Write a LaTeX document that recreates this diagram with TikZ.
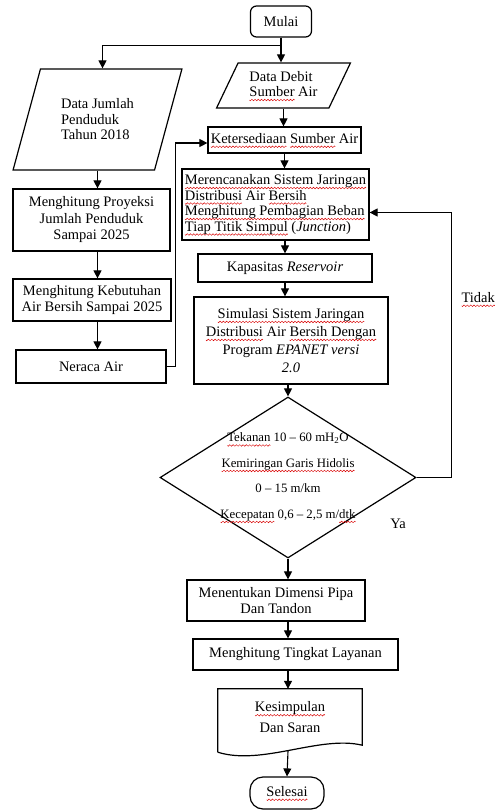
\documentclass[tikz,border=0pt]{standalone}
\usepackage{fontspec}
\setmainfont{Liberation Serif}
\usetikzlibrary{shapes.geometric,arrows.meta,calc}

\newsavebox\wavebox
\newcommand\salah[1]{\leavevmode\setbox0\hbox{#1}\rlap{\lower3.5pt\hbox to\wd0{\xleaders\copy\wavebox\hfil}}\box0\relax}

\tikzset{
  proses/.style={draw, line width=1.2pt, rectangle, inner sep=2pt, align=center},
  data/.style={draw, line width=1.2pt, trapezium, trapezium stretches=true, inner sep=0pt, align=left},
  terminal/.style={draw, line width=1.2pt, rectangle, rounded corners=#1, inner sep=2pt},
  arr/.style={line width=1.1pt, -{Triangle[length=8pt,width=8pt]}},
}

\begin{document}
\sbox\wavebox{\begin{pgfpicture}
  \pgfsetlinewidth{0.45pt}\pgfsetstrokecolor{red!85!black}
  \pgfpathmoveto{\pgfpointorigin}
  \pgfpathsine{\pgfpoint{0.8pt}{-0.8pt}}\pgfpathcosine{\pgfpoint{0.8pt}{0.8pt}}
  \pgfpathsine{\pgfpoint{0.8pt}{0.8pt}}\pgfpathcosine{\pgfpoint{0.8pt}{-0.8pt}}
  \pgfusepath{stroke}
  \pgfresetboundingbox
  \pgfpathrectanglecorners{\pgfpointorigin}{\pgfpoint{3.2pt}{0pt}}
  \pgfusepath{use as bounding box}
\end{pgfpicture}}%
\begin{tikzpicture}[x=1pt,y=1pt,yscale=-1,every node/.style={font=\fontsize{14.5}{15.5}\selectfont}]
\useasboundingbox (0,0) rectangle (496,810);

% Text Node
\node[terminal=6, minimum width=61, minimum height=31] (mulai) at (281,21.5) {Mulai};
% Text Node
\node[data, trapezium left angle=67, trapezium right angle=113, minimum width=169, minimum height=101] (jumlah) at (97.5,119.5) {Data Jumlah\\Penduduk\\Tahun 2018};
% Text Node
\node[proses, minimum width=157, minimum height=62, font=\fontsize{14.5}{16.5}\selectfont] (proyeksi) at (91.5,220) {Menghitung Proyeksi\\Jumlah Penduduk\\Sampai 2025};
% Text Node
\node[proses, minimum width=158, minimum height=42] (kebutuhan) at (92,300) {Menghitung Kebutuhan\\Air Bersih Sampai 2025};
% Text Node
\node[proses, minimum width=150, minimum height=33] (neraca) at (91,366.5) {Neraca Air};

% Text Node
\node[data, trapezium left angle=61, trapezium right angle=119, minimum width=135, minimum height=45] (debit) at (283.5,85.5) {Data Debit\\\salah{Sumber} Air};
% Text Node
\node[proses, minimum width=153, minimum height=26] (sedia) at (284.5,140) {\salah{Ketersediaan} \salah{Sumber} Air};
% Text Node
\node[proses, align=left, minimum width=187, minimum height=71] (rencana) at (275.5,204.5) {\salah{Merencanakan Sistem Jaringan}\\\salah{Distribusi} Air \salah{Bersih}\\\salah{Menghitung Pembagian Beban}\\\salah{Tiap Titik Simpul} (\textit{Junction})};
% Text Node
\node[proses, minimum width=174, minimum height=28] (kapasitas) at (285,268) {Kapasitas \textit{Reservoir}};
% Text Node
\node[proses, minimum width=194, minimum height=87, font=\fontsize{14.5}{18}\selectfont] (simulasi) at (291,340.5) {\salah{Simulasi Sistem Jaringan}\\\salah{Distribusi} Air \salah{Bersih Dengan}\\Program \textit{EPANET versi}\\\textit{2.0}};

%Shape: Diamond
\node[draw, diamond, line width=1.2pt, minimum width=256, minimum height=161, inner sep=0pt] (cek) at (288,477.5) {};
% Text Node
\node[align=center, font=\fontsize{12.8}{15}\selectfont] (syarat) at (cek) {\salah{Tekanan} 10 -- 60 mH\textsubscript{2}O\\[10.5pt]\salah{Kemiringan Garis Hidolis}\\[10.5pt]0 -- 15 m/km\\[10.5pt]\salah{Kecepatan} 0,6 -- 2,5 m/\salah{dtk}};
% Text Node
\node[anchor=west] (tidak) at (458,299) {\salah{Tidak}};
% Text Node
\node (ya) at (398,524) {Ya};

% Text Node
\node[proses, minimum width=178, minimum height=41] (dimensi) at (276,600.5) {Menentukan Dimensi Pipa\\Dan Tandon};
% Text Node
\node[proses, minimum width=205, minimum height=31] (layanan) at (295.5,654.5) {Menghitung Tingkat Layanan};
% Text Node
\node[minimum width=144, minimum height=56, inner sep=0pt, align=center] (simpulan) at (290,717) {\salah{Kesimpulan}\\[5pt]Dan Saran};
%Shape: Document
\draw[line width=1.2pt] ($(simpulan.south west)+(0,7)$) -- (simpulan.north west) -- (simpulan.north east) -- (simpulan.south east) .. controls (320,735) and (262,766) .. ($(simpulan.south west)+(0,7)$);
\coordinate (gelombang) at (288,751);
% Text Node
\node[terminal=13, minimum width=74, minimum height=32] (selesai) at (287,793) {\salah{Selesai}};

%Straight Lines
\draw[arr] (mulai.south) -- (mulai.south |- debit.north);
\draw[arr] (mulai.south) -- ++(0,8) -| ([xshift=5pt]jumlah.north);
\draw[arr] (jumlah.south) -- (jumlah.south |- proyeksi.north);
\draw[arr] (jumlah.south |- proyeksi.south) -- (jumlah.south |- kebutuhan.north);
\draw[arr] (jumlah.south |- kebutuhan.south) -- (jumlah.south |- neraca.north);
\draw[arr] (neraca.east) -- ++(9,0) |- ([yshift=3pt]sedia.west);
\draw[arr] (debit.south) -- (debit.south |- sedia.north);
\draw[arr] (sedia.south) -- (sedia.south |- rencana.north);
\draw[arr] (kapasitas.north |- rencana.south) -- (kapasitas.north);
\draw[arr] (kapasitas.south) -- (kapasitas.south |- simulasi.north);
\draw[arr] (cek.north |- simulasi.south) -- (cek.north);
\draw[arr] (cek.east) -- ++(35,0) |- ([yshift=8pt]rencana.east);
\draw[arr] (cek.south) -- (cek.south |- dimensi.north);
\draw[arr] (cek.south |- dimensi.south) -- (cek.south |- layanan.north);
\draw[arr] (cek.south |- layanan.south) -- (cek.south |- simpulan.north);
\draw[arr] (gelombang) -- (selesai.north);

\end{tikzpicture}
\end{document}
